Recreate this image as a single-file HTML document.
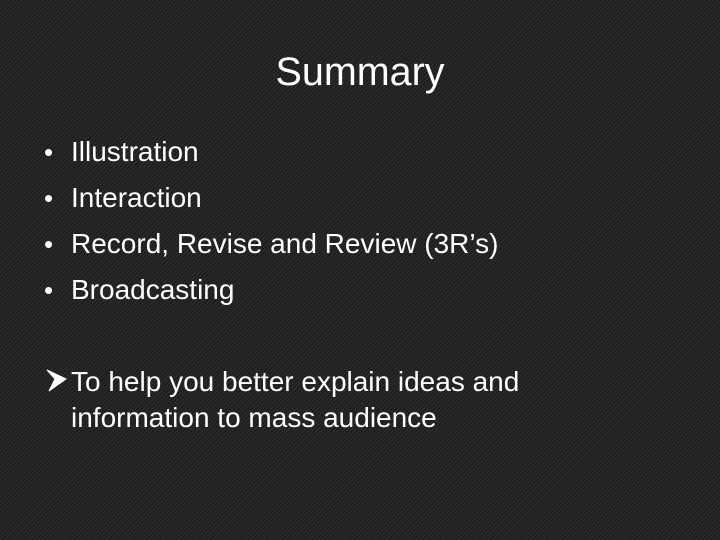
<!DOCTYPE html>
<html><head><style>
html,body{margin:0;padding:0}
body{width:720px;height:540px;overflow:hidden;position:relative;
background:#232323 repeating-linear-gradient(-45deg,#1d1d1d 0px,#1d1d1d 1.5px,#2b2b2b 1.5px,#2b2b2b 3px);
font-family:"Liberation Sans",sans-serif;color:#fff}
.t{position:absolute;left:0;width:720px;text-align:center;top:50px;font-size:39.5px}
.b{position:absolute;left:71px;font-size:28px;white-space:nowrap}
.d{position:absolute;left:44px;font-size:26px}
</style></head><body>
<div class="t">Summary</div>
<div class="d" style="top:137px">•</div><div class="b" style="top:136px">Illustration</div>
<div class="d" style="top:183px">•</div><div class="b" style="top:182px">Interaction</div>
<div class="d" style="top:229px">•</div><div class="b" style="top:228px">Record, Revise and Review (3R’s)</div>
<div class="d" style="top:275px">•</div><div class="b" style="top:274px">Broadcasting</div>
<svg style="position:absolute;left:46px;top:369px" width="22" height="24" viewBox="0 0 22 24"><path d="M1 1 L20 10 L3 22 L9 10 Z" fill="#fff" stroke="#fff" stroke-width="1"/></svg>
<div class="b" style="top:366px">To help you better explain ideas and</div>
<div class="b" style="top:402px">information to mass audience</div>
</body></html>
